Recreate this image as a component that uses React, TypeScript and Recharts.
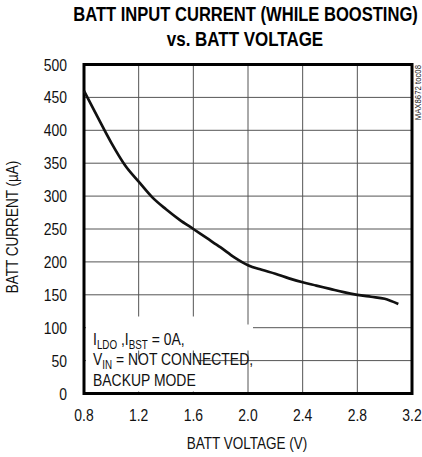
import React from 'react';
import { LineChart, Line, XAxis, YAxis, CartesianGrid, ReferenceArea } from 'recharts';

const voltage = [0.8, 0.9, 1.0, 1.1, 1.2, 1.3, 1.4, 1.5, 1.6, 1.7, 1.8, 1.9, 2.0, 2.1, 2.2, 2.3, 2.4, 2.5, 2.6, 2.7, 2.8, 2.9, 3.0, 3.1];
const current = [460, 420, 381, 347, 322, 298, 280, 264, 250, 236, 222, 207, 195, 188, 182, 175, 169, 164, 159, 154, 150, 147, 144, 136];
const xTicks = [0.8, 1.2, 1.6, 2.0, 2.4, 2.8, 3.2];
const yTicks = [0, 50, 100, 150, 200, 250, 300, 350, 400, 450, 500];

const data = voltage.map((v, i) => ({ v, i: current[i] }));

const FONT = '"Liberation Sans", Arial, sans-serif';
const W = 422;
const H = 457;
const PLOT = { left: 84, right: 412, top: 64.5, bottom: 393.5 };

// narrow text helper: scales horizontally around its anchor point
const NText = ({ x, y, size = 17, anchor = 'start', rotate = 0, sx = 0.82, weight = 'normal', fill = '#111', children }: any) => (
  <g transform={`translate(${x},${y}) rotate(${rotate}) scale(${sx},1)`}>
    <text x={0} y={0} textAnchor={anchor} fontFamily={FONT} fontSize={size} fontWeight={weight} fill={fill}>
      {children}
    </text>
  </g>
);

const XTick = ({ x, payload }: any) => (
  <NText x={x} y={421} anchor="middle">{Number(payload.value).toFixed(1)}</NText>
);

const YTick = ({ y, payload }: any) => (
  <NText x={PLOT.left - 17} y={y + 6} anchor="end">{payload.value}</NText>
);

// note text block in the lower left, each line on its own white backing
const NoteLabel = ({ viewBox }: any) => {
  const x0 = viewBox.x;
  const yb = viewBox.y + viewBox.height;
  return (
    <g>
      <rect x={x0 + 2} y={yb - 77} width={109} height={22} fill="#fff" />
      <rect x={x0 + 2} y={yb - 69} width={167} height={26} fill="#fff" />
      <rect x={x0 + 2} y={yb - 34} width={111} height={32} fill="#fff" />
      <NText x={x0 + 9} y={yb - 49}>
        I<tspan fontSize={12} dy={4}>LDO</tspan>
        <tspan dy={-4}> ,I</tspan>
        <tspan fontSize={12} dy={4}>BST</tspan>
        <tspan dy={-4}> = 0A,</tspan>
      </NText>
      <NText x={x0 + 9} y={yb - 28.5}>
        V<tspan fontSize={12} dy={4}>IN</tspan>
        <tspan dy={-4}> = NOT CONNECTED,</tspan>
      </NText>
      <NText x={x0 + 9} y={yb - 8}>BACKUP MODE</NText>
    </g>
  );
};

export default function App() {
  return (
    <div style={{ position: 'absolute', left: 0, top: 0, width: W, height: H, background: '#fff' }}>
      <LineChart
        width={W}
        height={H}
        data={data}
        margin={{ top: PLOT.top, right: W - PLOT.right, left: PLOT.left - 40, bottom: H - PLOT.bottom - 30 }}
      >
        <CartesianGrid stroke="#555" strokeWidth={1} horizontalValues={yTicks} verticalValues={xTicks} />
        <XAxis
          dataKey="v"
          type="number"
          domain={[0.8, 3.2]}
          ticks={xTicks}
          height={30}
          axisLine={false}
          tickLine={false}
          tick={<XTick />}
          interval={0}
        />
        <YAxis
          type="number"
          domain={[0, 500]}
          ticks={yTicks}
          width={40}
          axisLine={false}
          tickLine={false}
          tick={<YTick />}
          interval={0}
        />
        <ReferenceArea
          x1={0.8}
          x2={2.04}
          y1={0}
          y2={100}
          fill="none"
          stroke="none"
          ifOverflow="visible"
          label={<NoteLabel />}
        />
        <Line
          type="monotone"
          dataKey="i"
          stroke="#111"
          strokeWidth={2.7}
          dot={false}
          isAnimationActive={false}
        />
        <ReferenceArea
          x1={0.8}
          x2={3.2}
          y1={0}
          y2={500}
          fill="none"
          stroke="#000"
          strokeWidth={3}
          ifOverflow="visible"
        />
      </LineChart>
      <svg width={W} height={H} style={{ position: 'absolute', left: 0, top: 0, pointerEvents: 'none' }}>
        <NText x={245.5} y={21} anchor="middle" size={19.5} sx={0.85} weight="bold" fill="#000">
          BATT INPUT CURRENT (WHILE BOOSTING)
        </NText>
        <NText x={245} y={45.5} anchor="middle" size={19.5} sx={0.87} weight="bold" fill="#000">
          vs. BATT VOLTAGE
        </NText>
        <NText x={421} y={65} rotate={-90} anchor="end" size={9.5} fill="#222">MAX8672 toc08</NText>
        <NText x={18} y={227} rotate={-90} anchor="middle" size={16.5}>BATT CURRENT (µA)</NText>
        <NText x={247} y={449} anchor="middle" size={16.5}>BATT VOLTAGE (V)</NText>
      </svg>
    </div>
  );
}
